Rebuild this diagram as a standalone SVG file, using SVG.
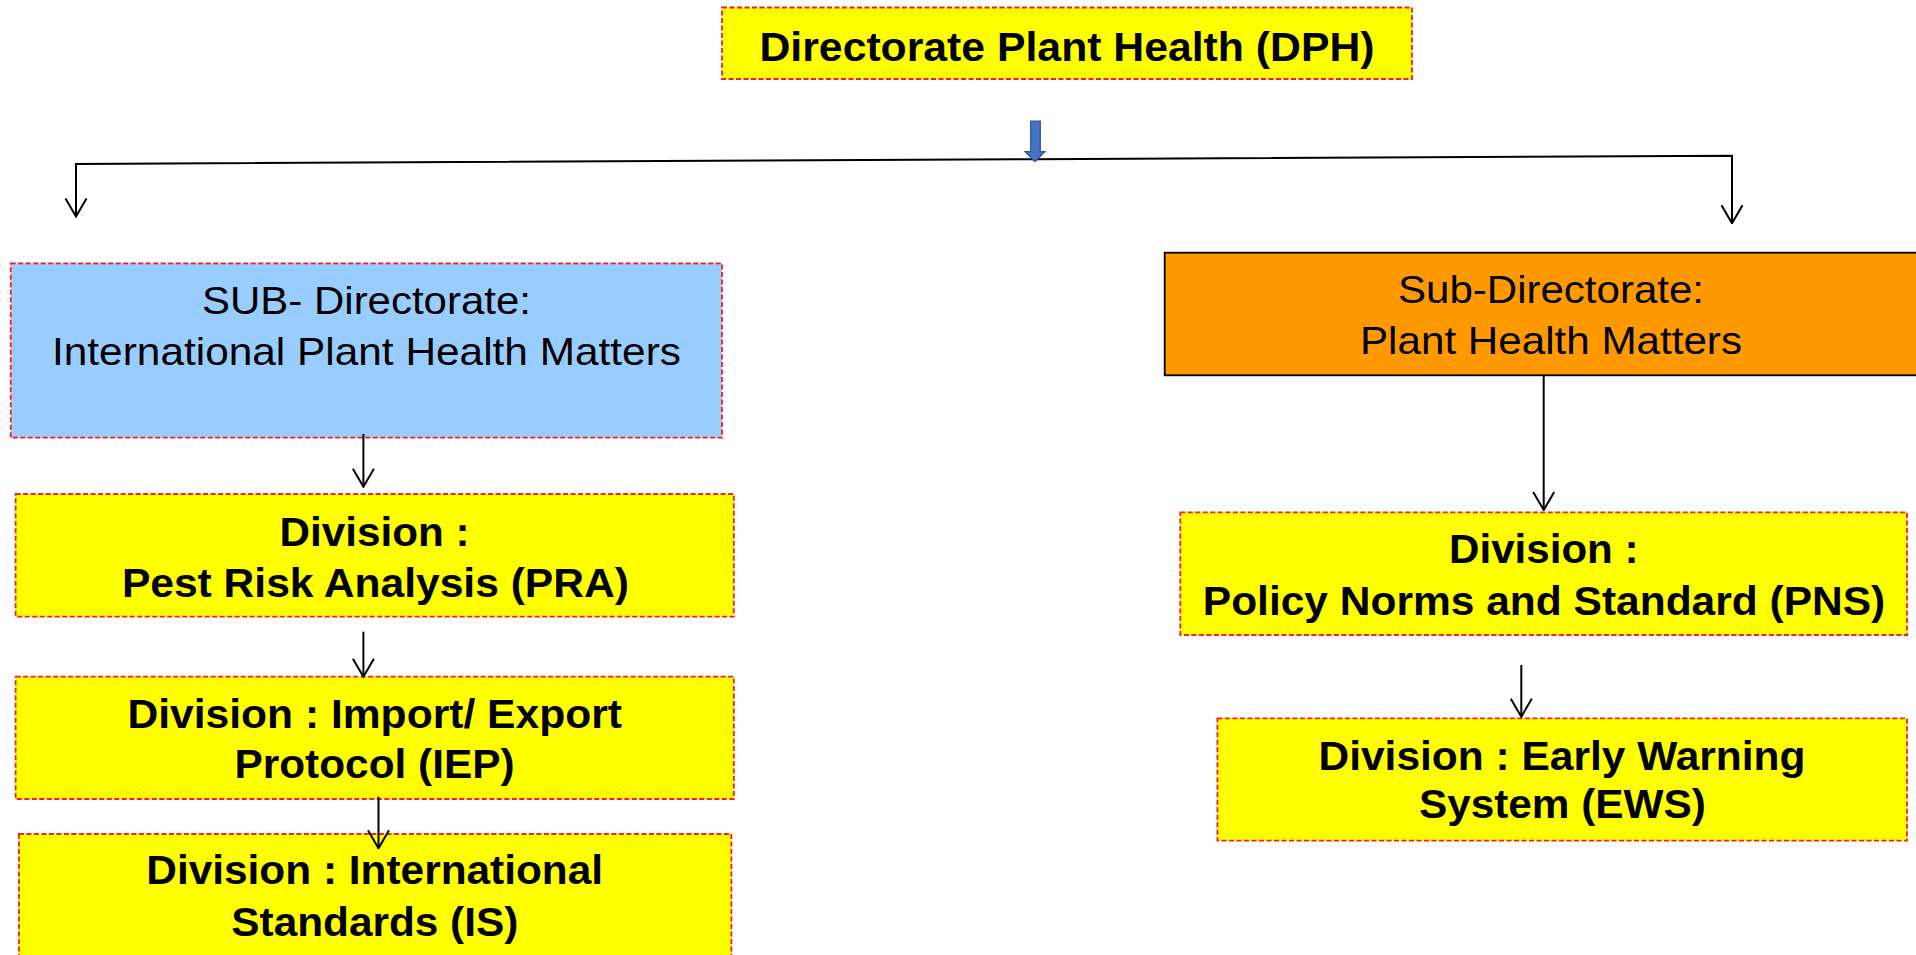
<svg xmlns="http://www.w3.org/2000/svg" width="1916" height="955" viewBox="0 0 1916 955">
<defs>
<style>
.dash{stroke:#FF1A1A;stroke-width:1.8;stroke-dasharray:5 2.5}
.yel{fill:#FFFF00}
.b{font-family:"Liberation Sans",Arial,sans-serif;font-weight:bold;font-size:40px;fill:#000;text-anchor:middle}
.r{font-family:"Liberation Sans",Arial,sans-serif;font-size:39px;fill:#000;text-anchor:middle}
.c{fill:none;stroke:#000;stroke-width:2;marker-end:url(#ah)}
</style>
<marker id="ah" markerWidth="20" markerHeight="24" viewBox="0 0 20 24" refX="19" refY="12" orient="auto" markerUnits="userSpaceOnUse">
<path d="M1 1.5 L19 12 L1 22.5" fill="none" stroke="#000" stroke-width="2"/>
</marker>
</defs>
<rect width="1916" height="955" fill="#FFFFFF"/>
<g id="dph">
<rect x="722" y="7.5" width="690" height="71.5" class="yel dash"/>
<text x="1067" y="60.5" class="b" textLength="615" lengthAdjust="spacingAndGlyphs">Directorate Plant Health (DPH)</text>
</g>
<g id="sub-iphm">
<rect x="10.7" y="263.3" width="711.3" height="174.4" fill="#99CCFF" class="dash"/>
<text x="366.5" y="314.3" class="r" textLength="329" lengthAdjust="spacingAndGlyphs">SUB- Directorate:</text>
<text x="366.5" y="365.3" class="r" textLength="629" lengthAdjust="spacingAndGlyphs">International  Plant Health Matters</text>
</g>
<g id="div-pra">
<rect x="15.6" y="494" width="718.2" height="122.7" class="yel dash"/>
<text x="374.6" y="545.7" class="b" textLength="190" lengthAdjust="spacingAndGlyphs">Division :</text>
<text x="375.4" y="596.7" class="b" textLength="507" lengthAdjust="spacingAndGlyphs">Pest Risk Analysis (PRA)</text>
</g>
<g id="div-iep">
<rect x="15.6" y="676.7" width="718.2" height="122.3" class="yel dash"/>
<text x="374.7" y="728.3" class="b" textLength="494.6" lengthAdjust="spacingAndGlyphs">Division : Import/ Export</text>
<text x="374.5" y="777.7" class="b" textLength="280" lengthAdjust="spacingAndGlyphs">Protocol (IEP)</text>
</g>
<g id="div-is">
<rect x="18.9" y="834" width="712.5" height="130" class="yel dash"/>
<text x="374.7" y="884" class="b" textLength="456.8" lengthAdjust="spacingAndGlyphs">Division : International</text>
<text x="374.8" y="936" class="b" textLength="287" lengthAdjust="spacingAndGlyphs">Standards (IS)</text>
</g>
<g id="sub-phm">
<rect x="1164.7" y="252.7" width="780" height="122.6" fill="#FF9900" stroke="#000" stroke-width="1.8"/>
<text x="1551" y="303.3" class="r" textLength="306" lengthAdjust="spacingAndGlyphs">Sub-Directorate:</text>
<text x="1551" y="354" class="r" textLength="382" lengthAdjust="spacingAndGlyphs">Plant Health Matters</text>
</g>
<g id="div-pns">
<rect x="1180.3" y="512.3" width="726.7" height="122.7" class="yel dash"/>
<text x="1543.8" y="563.3" class="b" textLength="189.5" lengthAdjust="spacingAndGlyphs">Division :</text>
<text x="1544" y="615" class="b" textLength="682.4" lengthAdjust="spacingAndGlyphs">Policy Norms and Standard (PNS)</text>
</g>
<g id="div-ews">
<rect x="1217.4" y="718.3" width="689.6" height="122.4" class="yel dash"/>
<text x="1562" y="770" class="b" textLength="487" lengthAdjust="spacingAndGlyphs">Division : Early Warning</text>
<text x="1562.4" y="818.3" class="b" textLength="287" lengthAdjust="spacingAndGlyphs">System (EWS)</text>
</g>
<g id="connectors">
<polyline class="c" points="1035,159.2 76,164 76,216.5"/>
<polyline class="c" points="1035,159.2 1732,155.7 1732,223.3"/>
<path d="M1030.7 121 H1040.3 V151.7 H1045 L1035 161.7 L1025 151.7 H1030.7 Z" fill="#4472C4" stroke="#2F5597" stroke-width="1.2"/>
<path d="M363.4 434 V486.7" class="c"/>
<path d="M363.4 631.7 V676.7" class="c"/>
<path d="M378.5 796.7 V848.3" class="c"/>
<path d="M1543.7 375 V510" class="c"/>
<path d="M1521.3 665 V716.7" class="c"/>
</g>
</svg>
